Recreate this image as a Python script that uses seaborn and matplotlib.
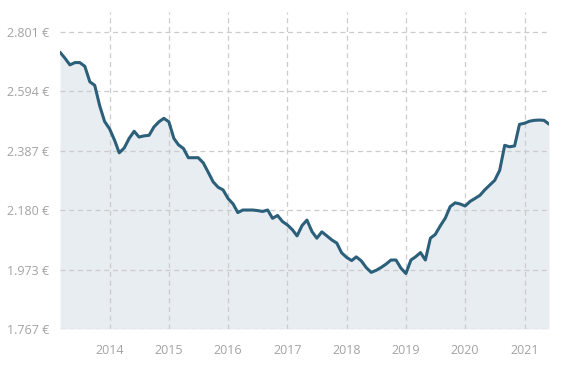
import numpy as np
import pandas as pd
import matplotlib
matplotlib.use("Agg")
import matplotlib.pyplot as plt
import seaborn as sns

# monthly values, Mar 2013 .. Jun 2021
months = pd.date_range("2013-03-01", periods=100, freq="MS")
prices = [
    2730, 2709, 2686, 2694, 2694, 2681, 2627, 2615, 2543, 2489,
    2463, 2423, 2380, 2397, 2430, 2455, 2435, 2439, 2441, 2470,
    2488, 2500, 2488, 2430, 2408, 2395, 2363, 2363, 2363, 2345,
    2312, 2279, 2260, 2251, 2221, 2202, 2172, 2181, 2181, 2181,
    2179, 2176, 2181, 2152, 2162, 2141, 2129, 2112, 2091, 2127,
    2146, 2106, 2083, 2105, 2091, 2077, 2066, 2032, 2016, 2005,
    2018, 2004, 1981, 1964, 1971, 1981, 1993, 2007, 2007, 1979,
    1960, 2007, 2018, 2033, 2007, 2083, 2096, 2126, 2153, 2193,
    2206, 2202, 2195, 2211, 2221, 2232, 2251, 2268, 2284, 2319,
    2406, 2401, 2404, 2479, 2483, 2490, 2493, 2494, 2493, 2480,
]
y_ticks = [1767, 1973.8, 2180.6, 2387.4, 2594.2, 2801]
y_labels = ["1.767 €", "1.973 €", "2.180 €", "2.387 €", "2.594 €", "2.801 €"]
years = [2014, 2015, 2016, 2017, 2018, 2019, 2020, 2021]

df = pd.DataFrame({"month": months, "price": prices})

sns.set_style("white")
plt.rcParams["font.family"] = ["Open Sans", "DejaVu Sans"]

fig = plt.figure(figsize=(5.71, 3.85), dpi=100)
ax = fig.add_axes([60 / 571, 56 / 385, 489 / 571, 317 / 385])

ax.fill_between(df["month"], df["price"], 1767, color="#e8edf2", lw=0, zorder=1)
sns.lineplot(data=df, x="month", y="price", ax=ax, color="#2b5f7a", lw=2.2, zorder=3)

ax.set_xlim(df["month"].iloc[0], df["month"].iloc[-1])
ax.set_ylim(1767, 2870)
ax.set_yticks(y_ticks)
ax.set_yticklabels(y_labels)
xt = pd.to_datetime([f"{y}-01-01" for y in years])
ax.set_xticks(xt)
ax.set_xticklabels([str(y) for y in years])

ax.grid(True, color="#cccccc", linestyle=(0, (4, 3)), lw=0.9, zorder=2)
ax.set_axisbelow(False)
for s in ax.spines.values():
    s.set_visible(False)
ax.tick_params(axis="both", length=0, labelsize=9, labelcolor="#a3a3a3")
ax.tick_params(axis="y", pad=8)
ax.tick_params(axis="x", pad=11)
ax.set_xlabel("")
ax.set_ylabel("")

fig.savefig("out.png", dpi=100)
